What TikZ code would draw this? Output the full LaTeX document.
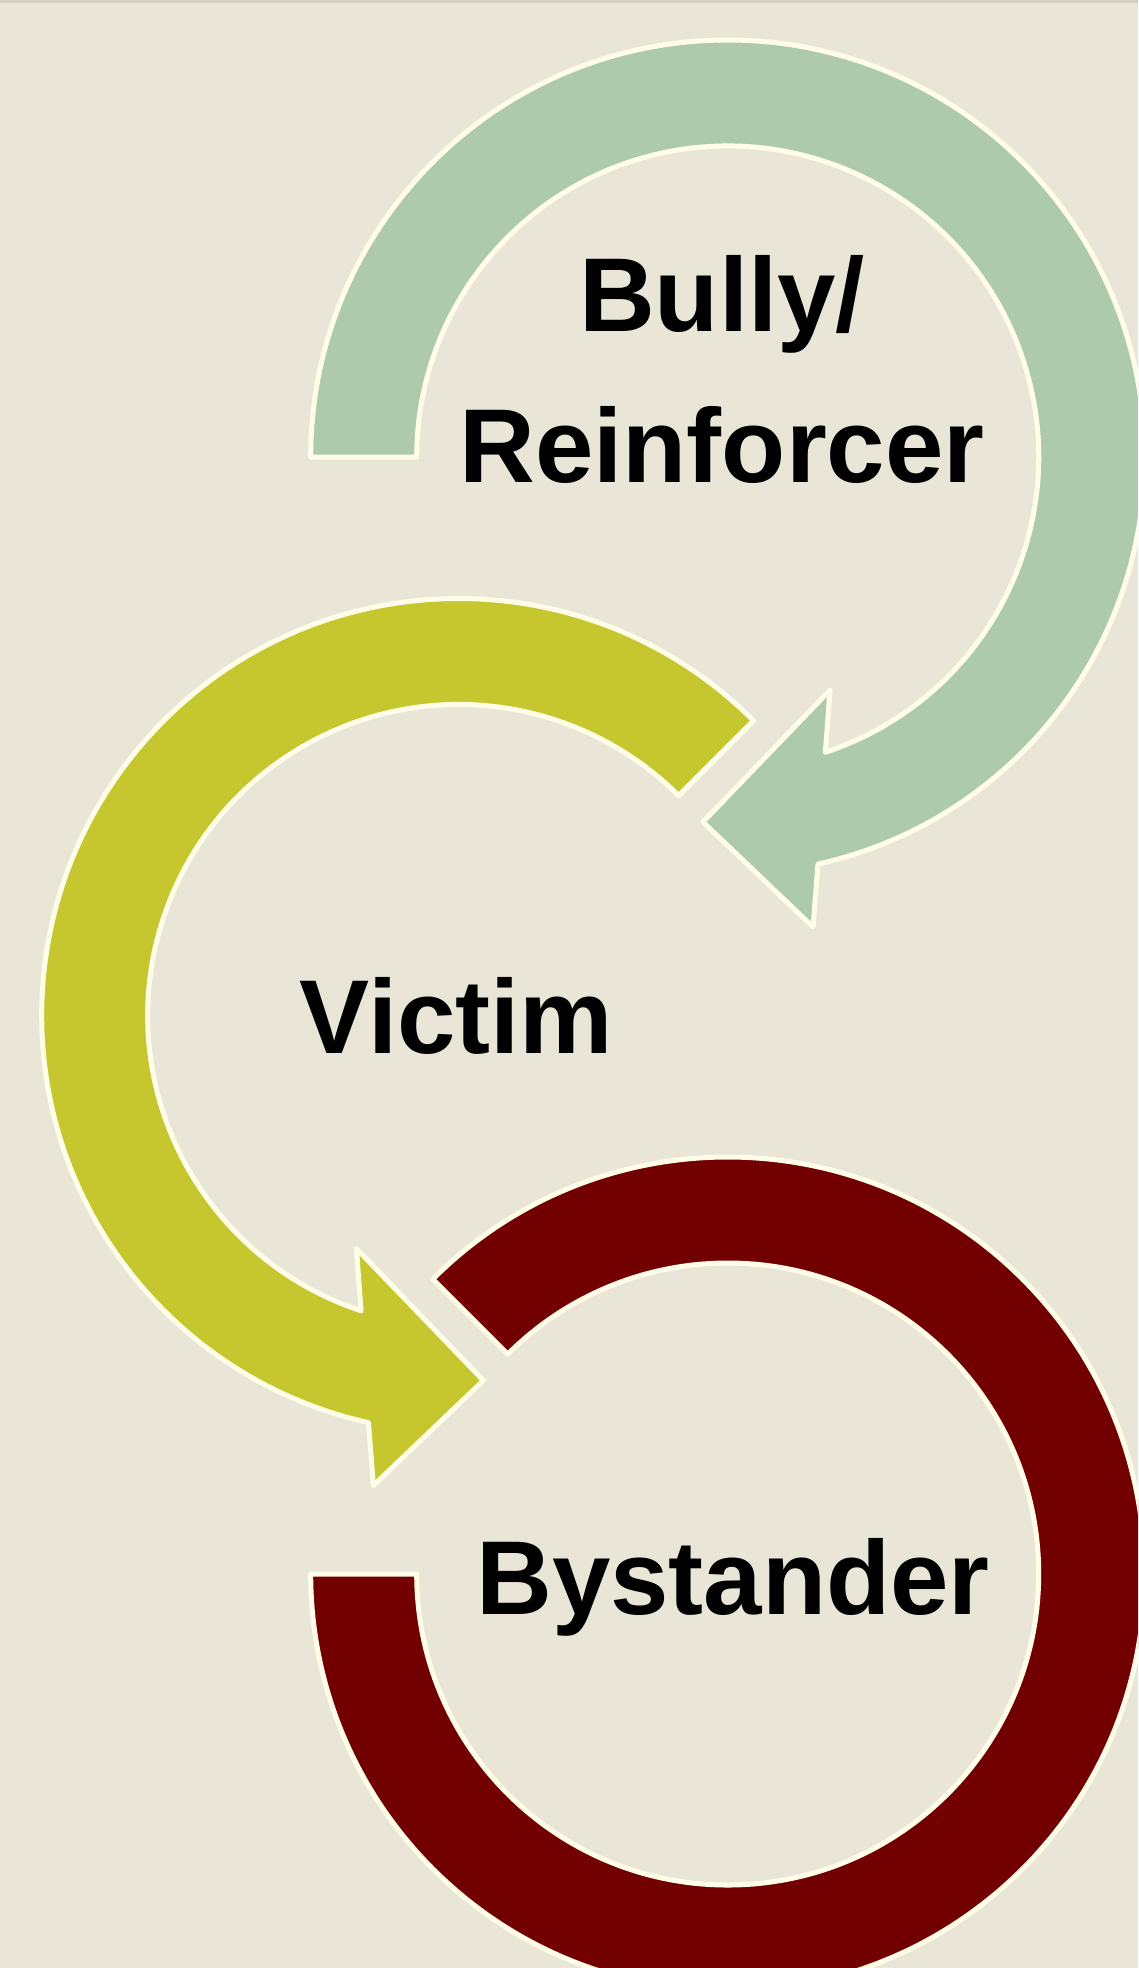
\documentclass[tikz,border=0pt]{standalone}
\usepackage{fontspec}
\setmainfont{Liberation Sans}
\definecolor{bgc}{HTML}{E9E6D7}
\definecolor{topline}{HTML}{D3D0C1}
\definecolor{greenarc}{HTML}{ADCAAD}
\definecolor{yellowarc}{HTML}{C6C62E}
\definecolor{redarc}{HTML}{720000}
\definecolor{edgec}{HTML}{FFFDE8}
\tikzset{
  arcshape/.style={draw=edgec, line width=5pt, line join=round},
  label/.style={inner sep=0pt, anchor=base, text=black, font=\bfseries\fontsize{105}{126}\selectfont}
}
\begin{document}
\begin{tikzpicture}[x=1pt,y=1pt]
\useasboundingbox (0,0) rectangle (1138,-1968);
\clip (0,0) rectangle (1138,-1968);
\fill[bgc] (0,0) rectangle (1138,-1968);
\fill[topline] (0,0) rectangle (1138,-2.5);
% green arrow (Bully/Reinforcer)
\begin{scope}[shift={(727.7,-457)}]
\path[arcshape, fill=greenarc] (180:417) arc[start angle=180, end angle=-77.5, radius=417]
  -- (85.3,-470) -- (-24.7,-365) -- (102.3,-233) -- (-71.7:311)
  arc[start angle=-71.7, end angle=180, radius=311] -- cycle;
\end{scope}
% yellow arrow (Victim)
\begin{scope}[shift={(458.7,-1015.5)}]
\path[arcshape, fill=yellowarc] (45:417) arc[start angle=45, end angle=257.5, radius=417]
  -- (-85.3,-470) -- (24.7,-365) -- (-102.3,-233) -- (251.7:311)
  arc[start angle=251.7, end angle=45, radius=311] -- cycle;
\end{scope}
% red arrow (Bystander)
\begin{scope}[shift={(727.7,-1574)}]
\path[arcshape, fill=redarc] (135:417) arc[start angle=135, end angle=-180, radius=417]
  -- (180:311) arc[start angle=-180, end angle=135, radius=311] -- cycle;
\end{scope}
\node[label] (bully) at (722,-331.7) {Bully/};
\node[label] (reinforcer) at (722,-482.7) {Reinforcer};
\node[label] (victim) at (456.5,-1053.3) {Victim};
\node[label] (bystander) at (733,-1614.3) {Bystander};
\end{tikzpicture}
\end{document}
